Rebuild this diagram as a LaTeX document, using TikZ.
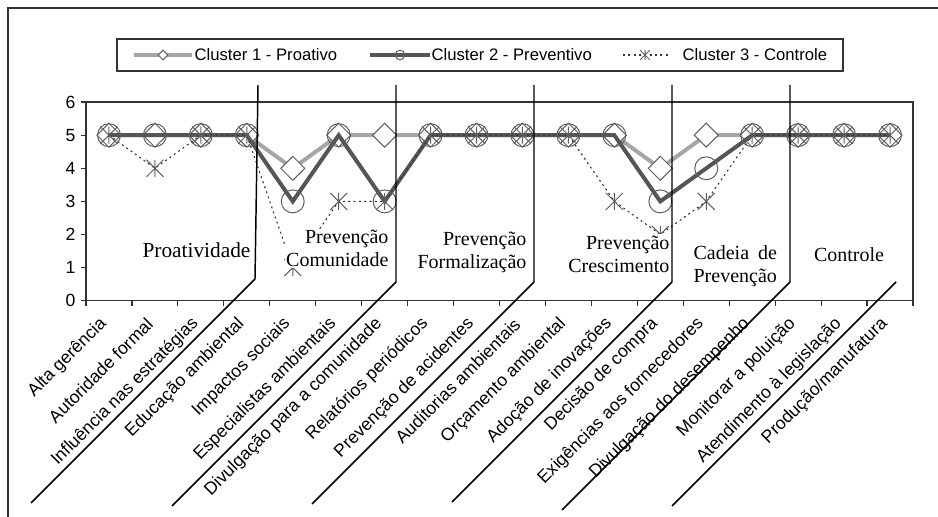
\documentclass[tikz,border=0pt]{standalone}
\usepackage{fontspec}
\setmainfont{Liberation Serif}
\setsansfont{Liberation Sans}
\usetikzlibrary{plotmarks}

\definecolor{clusterlight}{HTML}{A6A6A6}
\definecolor{clusterdark}{HTML}{555555}
\definecolor{markgray}{HTML}{5F5F5F}
\definecolor{framegray}{HTML}{333333}

% square diamond and excel-like star marks
\pgfdeclareplotmark{sqdiamond}{%
  \pgfpathmoveto{\pgfqpoint{0pt}{\pgfplotmarksize}}%
  \pgfpathlineto{\pgfqpoint{\pgfplotmarksize}{0pt}}%
  \pgfpathlineto{\pgfqpoint{0pt}{-\pgfplotmarksize}}%
  \pgfpathlineto{\pgfqpoint{-\pgfplotmarksize}{0pt}}%
  \pgfpathclose
  \pgfusepathqfillstroke}
\pgfdeclareplotmark{xstar}{%
  \pgfpathmoveto{\pgfqpoint{0pt}{\pgfplotmarksize}}%
  \pgfpathlineto{\pgfqpoint{0pt}{-\pgfplotmarksize}}%
  \pgfpathmoveto{\pgfqpoint{-\pgfplotmarksize}{-\pgfplotmarksize}}%
  \pgfpathlineto{\pgfqpoint{\pgfplotmarksize}{\pgfplotmarksize}}%
  \pgfpathmoveto{\pgfqpoint{-\pgfplotmarksize}{\pgfplotmarksize}}%
  \pgfpathlineto{\pgfqpoint{\pgfplotmarksize}{-\pgfplotmarksize}}%
  \pgfusepathqstroke}

\begin{document}
\begin{tikzpicture}[x=0.75pt, y=0.75pt,
    every node/.style={font=\sffamily\fontsize{12.5}{14}\selectfont},
    ticklabel/.style={font=\sffamily\fontsize{13.2}{15}\selectfont},
    clusterA/.style={clusterlight, line width=3pt, mark=sqdiamond, mark size=9pt,
        mark options={draw=markgray, fill=white, line width=0.75pt}},
    clusterB/.style={clusterdark, line width=3pt, mark=o, mark size=8.6pt,
        mark options={draw=markgray, line width=0.75pt}},
    clusterC/.style={framegray, line width=0.8pt, dash pattern=on 1.5pt off 2.5pt, mark=xstar, mark size=6.4pt,
        mark options={draw=markgray, solid, line width=0.75pt}},
    grouplabel/.style={font=\rmfamily\fontsize{15}{17.25}\selectfont, fill=white, inner sep=1pt},
    divider/.style={black, line width=1.1pt}]
    \useasboundingbox (0,0) rectangle (938,517);
    \draw[framegray, line width=1.5pt] (8,0) -- (8,509) -- (938,509);

    % legend
    \draw[framegray, line width=0.9pt, fill=white] (117,446) rectangle (843,478);
    \draw[clusterA, mark size=3.6pt, mark indices={2}] plot coordinates {(134,462) (163,462) (192,462)};
    \node[anchor=west, inner sep=1pt] (leg1) at (193,462) {Cluster 1 - Proativo};
    \draw[clusterB, mark size=3.6pt, mark indices={2}] plot coordinates {(370,462) (400,462) (430,462)};
    \node[anchor=west, inner sep=1pt] (leg2) at (430,462) {Cluster 2 - Preventivo};
    \draw[clusterC, mark size=3.6pt, mark indices={2}] plot coordinates {(623,462) (645,462) (668,462)};
    \node[anchor=west, inner sep=1pt] (leg3) at (681,462) {Cluster 3 - Controle};

    \begin{scope}[shift={(86,216.3)}, x=34.458pt, y=24.825pt]
        \draw[framegray, line width=0.9pt] (0,0) rectangle (18,6);
        \foreach \v in {0,...,6} {
            \draw[framegray, line width=0.9pt] (0,\v) -- ++(-4pt,0);
            \node[ticklabel, anchor=east] (ylab\v) at (-0.13,\v) {\v};
        }
        \foreach \i in {0,...,18}
            \draw[framegray, line width=0.9pt] (\i,0) -- ++(0,-4pt);
        \foreach \lab [count=\i] in {Alta gerência, Autoridade formal, Influência nas estratégias,
            Educação ambiental, Impactos sociais, Especialistas ambientais,
            Divulgação para a comunidade, Relatórios periódicos, Prevenção de acidentes,
            Auditorias ambientais, Orçamento ambiental, Adoção de inovações,
            Decisão de compra, Exigências aos fornecedores, Divulgação do desempenho,
            Monitorar a poluição, Atendimento à legislação, Produção/manufatura}
            \node[ticklabel, rotate=45, anchor=east, inner sep=0pt] (xlab\i) at (\i-0.61,-0.62) {\lab};

        \draw[clusterA] plot coordinates {(0.5,5) (1.5,5) (2.5,5) (3.5,5) (4.5,4) (5.5,5)
            (6.5,5) (7.5,5) (8.5,5) (9.5,5) (10.5,5) (11.5,5) (12.5,4) (13.5,5) (14.5,5)
            (15.5,5) (16.5,5) (17.5,5)};
        \draw[clusterB] plot coordinates {(0.5,5) (1.5,5) (2.5,5) (3.5,5) (4.5,3) (5.5,5)
            (6.5,3) (7.5,5) (8.5,5) (9.5,5) (10.5,5) (11.5,5) (12.5,3) (13.5,4) (14.5,5)
            (15.5,5) (16.5,5) (17.5,5)};
        \draw[clusterC] plot coordinates {(0.5,5) (1.5,4) (2.5,5) (3.5,5) (4.5,1) (5.5,3)
            (6.5,3) (7.5,5) (8.5,5) (9.5,5) (10.5,5) (11.5,3) (12.5,2) (13.5,3) (14.5,5)
            (15.5,5) (16.5,5) (17.5,5)};
    \end{scope}

    % group names
    \node[grouplabel, font=\rmfamily\fontsize{16}{17.25}\selectfont] (proat) at (196.5,267) {Proatividade};
    \node[grouplabel, anchor=east, align=right] (comun) at (390,268.5) {Prevenção\\Comunidade};
    \node[grouplabel, anchor=east, align=right] (formal) at (528,265) {Prevenção\\Formalização};
    \node[grouplabel, anchor=east, align=right] (cresc) at (671,263) {Prevenção\\Crescimento};
    \node[grouplabel, anchor=west, align=left] (cadeia) at (692,251) {Cadeia\hspace{3pt} de\\Prevenção};
    \node[grouplabel] (contr) at (849,262) {Controle};

    % dividers
    \draw[divider] (258,432) -- (255,238) -- ++(-224,-224);
    \draw[divider] (396,432) -- (396,235) -- ++(-224,-224);
    \draw[divider] (534,432) -- (534,235) -- ++(-222,-222);
    \draw[divider] (672,432) -- (672,235) -- ++(-220,-220);
    \draw[divider] (790,432) -- (790,235) -- ++(-228,-228);
    \draw[divider] (896,235) -- ++(-224,-224);
\end{tikzpicture}
\end{document}
